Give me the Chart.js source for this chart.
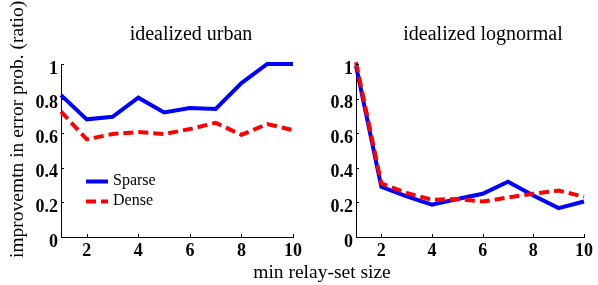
<!DOCTYPE html>
<html><head><meta charset="utf-8">
<script src="https://cdn.jsdelivr.net/npm/chart.js@4/dist/chart.umd.min.js"></script>
<style>
html,body{margin:0;padding:0;background:#fff;}
#wrap{position:relative;width:598px;height:285px;overflow:hidden;background:#fff;}
canvas{position:absolute;left:0;top:0;}
</style></head><body>
<div id="wrap"><canvas id="c1" width="598" height="285"></canvas><canvas id="c2" width="598" height="285"></canvas></div>
<script>
const relaySizes = [1, 2, 3, 4, 5, 6, 7, 8, 9, 10];
const urbanSparse = [0.82, 0.68, 0.695, 0.805, 0.72, 0.745, 0.74, 0.89, 1.0, 1.0];
const urbanDense = [0.725, 0.565, 0.595, 0.607, 0.595, 0.624, 0.66, 0.59, 0.653, 0.618];
const lognormalSparse = [0.99, 0.29, 0.235, 0.187, 0.22, 0.25, 0.32, 0.24, 0.167, 0.205];
const lognormalDense = [1.01, 0.31, 0.255, 0.215, 0.22, 0.205, 0.228, 0.25, 0.268, 0.233];
const xTickValues = [2, 4, 6, 8, 10];
const yTickValues = [0, 0.2, 0.4, 0.6, 0.8, 1];
const yTickLabels = ['0', '0.2', '0.4', '0.6', '0.8', '1'];
const seriesNames = ['Sparse', 'Dense'];
const panelTitles = ['idealized urban', 'idealized lognormal'];
const xAxisTitle = 'min relay-set size';
const yAxisTitle = 'improvemtn in error prob. (ratio)';

const SERIF = '"Liberation Serif", "Times New Roman", serif';

const decorPlugin = {
  id: 'decor',
  afterDraw(chart, args, opts) {
    const ctx = chart.ctx;
    const xs = chart.scales.x, ys = chart.scales.y;
    const ca = chart.chartArea;
    ctx.save();
    // inward tick marks
    ctx.strokeStyle = '#000';
    ctx.lineWidth = 1;
    ctx.beginPath();
    xTickValues.forEach(v => {
      const px = Math.round(xs.getPixelForValue(v)) + 0.5;
      ctx.moveTo(px, ca.bottom);
      ctx.lineTo(px, ca.bottom - 3);
    });
    yTickValues.forEach(v => {
      const py = Math.round(ys.getPixelForValue(v)) + 0.5;
      ctx.moveTo(ca.left, py);
      ctx.lineTo(ca.left + 3, py);
    });
    ctx.stroke();
    // panel title
    ctx.fillStyle = '#000';
    ctx.font = '20px ' + SERIF;
    ctx.textAlign = 'center';
    ctx.textBaseline = 'alphabetic';
    ctx.fillText(opts.title, opts.titleX, 40);
    if (opts.shared) {
      ctx.font = '19.5px ' + SERIF;
      ctx.textAlign = 'center';
      ctx.fillText(xAxisTitle, 322, 278);
      ctx.save();
      ctx.translate(23, 258);
      ctx.rotate(-Math.PI / 2);
      ctx.textAlign = 'left';
      ctx.fillText(yAxisTitle, 0, 0);
      ctx.restore();
      // legend
      const rows = [181, 201];
      chart.data.datasets.forEach(ds => {
        const idx = seriesNames.indexOf(ds.label);
        const y = rows[idx] + 0.5;
        ctx.save();
        ctx.strokeStyle = ds.borderColor;
        ctx.lineWidth = ds.borderWidth;
        ctx.setLineDash(ds.borderDash || []);
        ctx.beginPath();
        ctx.moveTo(86, y);
        ctx.lineTo(108, y);
        ctx.stroke();
        ctx.restore();
        ctx.font = '16px ' + SERIF;
        ctx.textAlign = 'left';
        ctx.textBaseline = 'middle';
        ctx.fillStyle = '#000';
        ctx.fillText(ds.label, 113, rows[idx]);
      });
    }
    ctx.restore();
  }
};

function makePanel(id, title, titleX, sparse, dense, padLeft, padRight, yWidth, shared) {
  return new Chart(document.getElementById(id), {
    type: 'line',
    data: {
      datasets: [
        { label: seriesNames[0], data: relaySizes.map((x, i) => ({ x, y: sparse[i] })),
          borderColor: '#0000ff', borderWidth: 4, pointRadius: 0, fill: false, tension: 0,
          order: 1, clip: false, borderJoinStyle: 'miter' },
        { label: seriesNames[1], data: relaySizes.map((x, i) => ({ x, y: dense[i] })),
          borderColor: '#ff0000', borderWidth: 4, borderDash: [10, 5], pointRadius: 0, fill: false, tension: 0,
          order: 0, clip: false, borderJoinStyle: 'miter' }
      ]
    },
    options: {
      responsive: false,
      animation: false,
      events: [],
      layout: { padding: { left: padLeft, right: padRight, top: 64, bottom: 0 } },
      plugins: {
        legend: { display: false },
        tooltip: { enabled: false },
        title: { display: false },
        decor: { title, titleX, shared }
      },
      scales: {
        x: {
          type: 'linear', min: 1, max: 10,
          grid: { display: false, drawTicks: false },
          border: { display: true, color: '#000', width: 1 },
          ticks: { color: '#000', font: { family: SERIF, size: 18, weight: 'bold' }, padding: 4, maxRotation: 0, autoSkip: false },
          afterBuildTicks: s => { s.ticks = xTickValues.map(v => ({ value: v })); },
          afterFit: s => { s.height = 48; }
        },
        y: {
          type: 'linear', min: 0, max: 1,
          grid: { display: false, drawTicks: false },
          border: { display: true, color: '#000', width: 1 },
          ticks: { color: '#000', font: { family: SERIF, size: 18, weight: 'bold' }, padding: 3, labelOffset: 5,
            autoSkip: false,
            callback: (v) => yTickLabels[yTickValues.indexOf(Math.round(v * 10) / 10)] },
          afterBuildTicks: s => { s.ticks = yTickValues.map(v => ({ value: v })); },
          afterFit: s => { s.width = yWidth; }
        }
      }
    },
    plugins: [decorPlugin]
  });
}

makePanel('c1', panelTitles[0], 191, urbanSparse, urbanDense, 0, 305, 61, true);
makePanel('c2', panelTitles[1], 483, lognormalSparse, lognormalDense, 300, 14, 56, false);
</script>
</body></html>
